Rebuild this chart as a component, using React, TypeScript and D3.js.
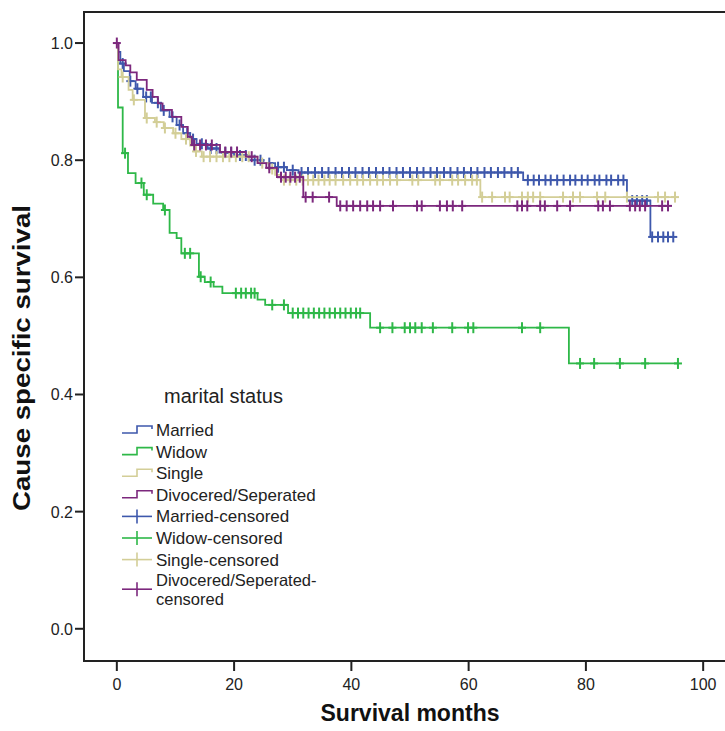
import React, { useEffect, useRef } from 'react';
import * as d3 from 'd3';

// group names and colours (SPSS defaults)
const groups = ['Married', 'Widow', 'Single', 'Divocered/Seperated'];
const colors = ['#3E58AC', '#2EB848', '#D3CE97', '#7C287D'];

// step points: [month, survival after the drop]
const marriedSteps = [
  [0.2, 0.985], [0.6, 0.965], [1.2, 0.952], [2.2, 0.935], [3.2, 0.922], [4.5, 0.908],
  [6.0, 0.898], [7.5, 0.885], [9.0, 0.874], [10.2, 0.86], [11.3, 0.846], [12.5, 0.836],
  [13.6, 0.828], [15.5, 0.82], [17.5, 0.813], [20.0, 0.808], [22.5, 0.8], [25.0, 0.795],
  [27.0, 0.788], [29.0, 0.783], [31.0, 0.779], [69.3, 0.766], [87.0, 0.731], [91.0, 0.669],
];
const widowSteps = [
  [0.2, 0.89], [1.0, 0.812], [1.9, 0.778], [3.2, 0.761], [4.6, 0.741], [6.2, 0.726],
  [7.9, 0.715], [9.0, 0.676], [10.2, 0.667], [11.0, 0.641], [14.0, 0.601], [15.0, 0.592],
  [16.5, 0.584], [18.0, 0.573], [24.0, 0.562], [25.3, 0.553], [29.2, 0.539], [43.2, 0.514],
  [77.1, 0.453],
];
const singleSteps = [
  [0.2, 0.955], [0.8, 0.942], [2.0, 0.92], [2.7, 0.903], [4.8, 0.872], [6.5, 0.865],
  [8.0, 0.855], [9.6, 0.846], [11.0, 0.836], [12.5, 0.825], [13.2, 0.815], [14.5, 0.806],
  [24.0, 0.795], [26.0, 0.785], [27.0, 0.775], [28.0, 0.766], [62.0, 0.737],
];
const divorcedSteps = [
  [0.3, 0.971], [1.5, 0.962], [2.3, 0.95], [3.4, 0.937], [5.1, 0.92], [6.1, 0.908],
  [7.0, 0.897], [7.8, 0.886], [9.4, 0.874], [11.0, 0.857], [12.1, 0.84], [12.8, 0.826],
  [17.6, 0.814], [22.0, 0.806], [24.0, 0.795], [25.5, 0.787], [27.3, 0.771], [31.8, 0.737],
  [37.5, 0.722],
];

// censored times (months)
const marriedCensored = [
  1, 2.3, 3.5, 5, 5.8, 7, 8, 9.5, 10.7, 12, 13, 14.5, 16, 17, 18.5, 19.5, 21, 22, 23.5, 24.5,
  26, 27.5, 28.5, 30, 31.5, 32.6, 33.8, 35, 36.1, 37.3, 38.4, 39.6, 40.7, 41.9, 43, 44.2, 45.4,
  46.5, 47.7, 48.8, 50, 51.2, 52.3, 53.5, 54.6, 55.8, 56.9, 58.1, 59.2, 60.4, 61.5, 62.7, 63.8,
  65, 66.1, 67.3, 68.4, 70.1, 71.1, 72, 73.1, 74, 75.1, 76.2, 77.3, 78.2, 79.3, 80.3, 81.5,
  82.3, 83.5, 84.3, 85.5, 86.4, 87.9, 88.7, 89.6, 90.4, 91.3, 92.3, 93.2, 94, 94.9,
];
const widowCensored = [
  1.4, 4.2, 5.1, 8.2, 11.6, 12.5, 14.3, 16, 20.3, 21.2, 22, 22.9, 23.5, 26.5, 28.5, 30, 30.9,
  31.8, 32.7, 33.6, 34.5, 35.4, 36.3, 37.2, 38.1, 39, 39.9, 40.8, 41.5, 44.9, 47, 49.1, 50,
  50.9, 52, 53.9, 57.2, 59.9, 60.8, 69.1, 72.2, 79, 81.4, 85.8, 90.1, 95.7,
];
const singleCensored = [
  1, 2.9, 5.1, 6.8, 8.2, 10, 11.8, 13.5, 14.8, 15.9, 17, 18.1, 19.2, 20.3, 21.4, 22.5, 24.8,
  26.5, 28.5, 29.5, 30.6, 31.7, 32.6, 33.5, 34.4, 35.4, 36.3, 37.3, 38.6, 39.8, 41, 42, 43.2,
  44.4, 45.4, 46.6, 47.8, 50.4, 51.4, 54.3, 55.1, 57.2, 58.2, 59.4, 60.6, 61.4, 62.3, 64,
  66.2, 67, 69.1, 70.1, 71, 72.2, 76.1, 77.8, 79, 81.9, 83.3, 87, 92.3, 93.5, 95.2,
];
const divorcedCensored = [
  0, 13.2, 14.2, 15.2, 16.2, 18.5, 19.5, 20.5, 23, 26, 28, 28.8, 29.6, 30.4, 31.2, 32.2, 33.4,
  36.2, 38.1, 39.2, 40.3, 41.5, 42.7, 43.7, 44.9, 47.1, 51.2, 52, 55.1, 56.3, 57.3, 58.9, 68.3,
  69.1, 70, 72.2, 73, 75.1, 77.3, 82.1, 82.9, 84.1, 87.5, 88.4, 89.2, 90.1, 93, 94,
];

const allSteps = [marriedSteps, widowSteps, singleSteps, divorcedSteps];
const allCensored = [marriedCensored, widowCensored, singleCensored, divorcedCensored];

const yTicks = [0, 0.2, 0.4, 0.6, 0.8, 1.0];
const xTicks = [0, 20, 40, 60, 80, 100];

const survivalAt = (steps, t) => {
  let s = 1;
  for (const [st, v] of steps) {
    if (st <= t) s = v;
  }
  return s;
};

export default function App() {
  const svgRef = useRef(null);

  useEffect(() => {
    const svg = d3.select(svgRef.current);
    svg.selectAll('*').remove();

    const x = d3.scaleLinear().domain([-5.6, 105.6]).range([84, 736]);
    const y = d3.scaleLinear().domain([-0.055, 1.053]).range([661, 12]);

    const font = 'Arial, "Liberation Sans", sans-serif';

    // curves
    const line = d3
      .line()
      .x((d) => x(d[0]))
      .y((d) => y(d[1]))
      .curve(d3.curveStepAfter);

    allSteps.forEach((steps, i) => {
      const cens = allCensored[i];
      const end = cens[cens.length - 1];
      const pts = [[0, 1], ...steps, [end, steps[steps.length - 1][1]]];
      svg
        .append('path')
        .datum(pts)
        .attr('fill', 'none')
        .attr('stroke', colors[i])
        .attr('stroke-width', 1.8)
        .attr('d', line);

      const g = svg.append('g').attr('stroke', colors[i]).attr('stroke-width', 2);
      cens.forEach((t) => {
        const cx = x(t);
        const cy = y(survivalAt(steps, t));
        g.append('line').attr('x1', cx).attr('x2', cx).attr('y1', cy - 5.5).attr('y2', cy + 5.5);
        g.append('line').attr('x1', cx - 4).attr('x2', cx + 4).attr('y1', cy).attr('y2', cy);
      });
    });

    // frame
    svg
      .append('path')
      .attr('d', 'M740,12 H84 V661 H740')
      .attr('fill', 'none')
      .attr('stroke', '#222')
      .attr('stroke-width', 2);

    // y axis ticks
    const yAxis = svg.append('g');
    yTicks.forEach((v) => {
      yAxis
        .append('line')
        .attr('x1', 75)
        .attr('x2', 84)
        .attr('y1', y(v))
        .attr('y2', y(v))
        .attr('stroke', '#222')
        .attr('stroke-width', 2);
      yAxis
        .append('text')
        .attr('x', 73)
        .attr('y', y(v) + 6)
        .attr('text-anchor', 'end')
        .attr('font-family', font)
        .attr('font-size', 16)
        .attr('fill', '#222')
        .text(v.toFixed(1));
    });

    // x axis ticks
    const xAxis = svg.append('g');
    xTicks.forEach((v) => {
      xAxis
        .append('line')
        .attr('x1', x(v))
        .attr('x2', x(v))
        .attr('y1', 661)
        .attr('y2', 671)
        .attr('stroke', '#222')
        .attr('stroke-width', 2);
      xAxis
        .append('text')
        .attr('x', x(v))
        .attr('y', 690)
        .attr('text-anchor', 'middle')
        .attr('font-family', font)
        .attr('font-size', 16)
        .attr('fill', '#222')
        .text(v);
    });

    // axis titles
    svg
      .append('text')
      .attr('x', 410)
      .attr('y', 721)
      .attr('text-anchor', 'middle')
      .attr('font-family', font)
      .attr('font-weight', 'bold')
      .attr('font-size', 23)
      .attr('fill', '#111')
      .text('Survival months');

    svg
      .append('text')
      .attr('transform', 'translate(30,358) rotate(-90)')
      .attr('text-anchor', 'middle')
      .attr('font-family', font)
      .attr('font-weight', 'bold')
      .attr('font-size', 24)
      .attr('textLength', 306)
      .attr('lengthAdjust', 'spacingAndGlyphs')
      .attr('fill', '#111')
      .text('Cause specific survival');

    // legend
    const legend = svg.append('g').attr('font-family', font).attr('fill', '#222');
    legend
      .append('text')
      .attr('x', 164)
      .attr('y', 403)
      .attr('font-size', 20)
      .text('marital status');

    const rowY = (i) => 430 + i * 21.6;
    groups.forEach((name, i) => {
      const cy = rowY(i);
      legend
        .append('path')
        .attr('d', `M122,${cy + 3} H137 V${cy - 4} H152 V${cy - 1}`)
        .attr('fill', 'none')
        .attr('stroke', colors[i])
        .attr('stroke-width', 1.6);
      legend.append('text').attr('x', 156).attr('y', cy + 6).attr('font-size', 17).text(name);
    });
    groups.forEach((name, i) => {
      const last = i === groups.length - 1;
      const cy = rowY(i + 4) + (last ? 8 : 0);
      const lg = legend.append('g').attr('stroke', colors[i]).attr('stroke-width', 1.6);
      lg.append('line').attr('x1', 122).attr('x2', 152).attr('y1', cy).attr('y2', cy);
      lg.append('line').attr('x1', 137).attr('x2', 137).attr('y1', cy - 7).attr('y2', cy + 7);
      if (last) {
        legend.append('text').attr('x', 156).attr('y', rowY(i + 4) + 5).attr('font-size', 16.5).text(name + '-');
        legend.append('text').attr('x', 156).attr('y', rowY(i + 4) + 24).attr('font-size', 16.5).text('censored');
      } else {
        legend.append('text').attr('x', 156).attr('y', cy + 6).attr('font-size', 17).text(name + '-censored');
      }
    });
  }, []);

  return (
    <svg
      ref={svgRef}
      width={725}
      height={731}
      style={{ position: 'absolute', left: 0, top: 0, background: '#fff' }}
    />
  );
}
